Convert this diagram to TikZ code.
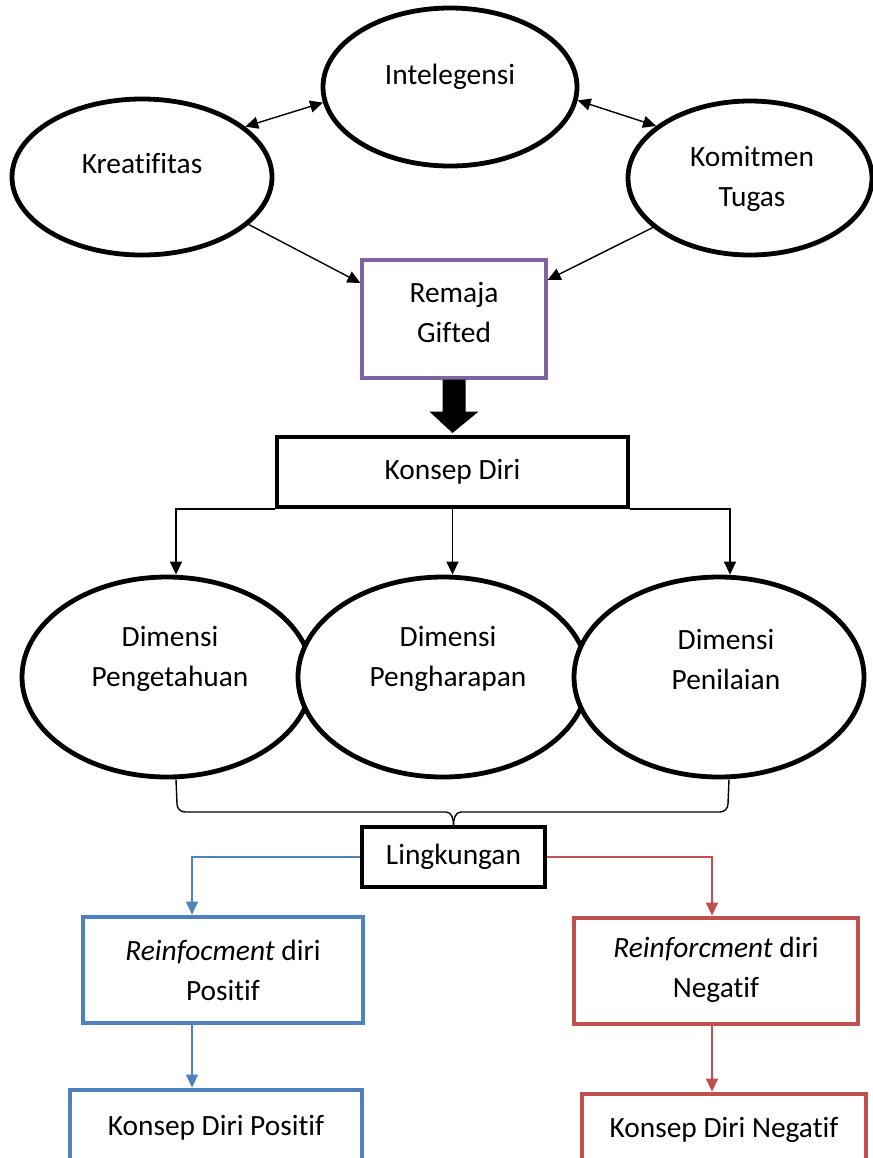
\documentclass[tikz,border=0pt]{standalone}
\usepackage{fontspec}
\setmainfont{Carlito}[Ligatures=CommonOff]
\usepackage{tikz}
\usetikzlibrary{calc,arrows.meta,positioning,shapes.geometric}
\definecolor{purc}{HTML}{8064A2}
\definecolor{bluec}{HTML}{4F81BD}
\definecolor{redc}{HTML}{C0504D}
\tikzset{
  ar/.style={-{Triangle[length=6.5pt,width=6pt]},line width=0.7pt},
  dar/.style={{Triangle[length=6.5pt,width=6pt]}-{Triangle[length=6.5pt,width=6pt]},line width=0.7pt},
  elp/.style={ellipse,draw,fill=white,line width=2.4pt,inner sep=0pt},
  bx/.style={rectangle,draw,line width=2pt,align=center,inner sep=0pt},
  txt/.style={align=center,inner sep=0pt}
}
\begin{document}
\begin{tikzpicture}[x=0.5pt,y=-0.5pt,font=\fontsize{14.7}{20}\selectfont]
\clip (0,0) rectangle (873,1158);
% top ellipses
\node[elp,minimum width=127pt,minimum height=79pt] (intel) at (450,87) {};
\node[txt] at (450,77) {Intelegensi};
\node[elp,minimum width=130pt,minimum height=78pt] (kreat) at (142,177) {};
\node[txt] at (142,163) {Kreatifitas};
\node[elp,minimum width=122pt,minimum height=77pt] (komit) at (750,178) {};
\node[txt] at (752,179) {Komitmen\\Tugas};
\node[bx,draw=purc,line width=1.6pt,minimum width=92pt,minimum height=59pt] (gifted) at (454,319) {};
\node[txt] at (454,312) {Remaja\\Gifted};
\draw[dar] (kreat.26) -- (intel.187);
\draw[dar] (intel.-6) -- (komit.151);
\draw[ar] (kreat.-24) -- ([yshift=18pt]gifted.west);
\draw[ar] (komit.207) -- ([yshift=19.5pt]gifted.east);
% konsep diri
\node[bx,minimum width=175.5pt,minimum height=35pt] (konsep) at (452.5,472) {Konsep Diri};
\fill ($(gifted.south)+(-11.5,0)$) -- ($(gifted.south)+(11.5,0)$) -- ($(gifted.south)+(11.5,32)$)
  -- ($(gifted.south)+(24.5,32)$) -- ($(konsep.north)+(0,-2)$) -- ($(gifted.south)+(-24.5,32)$)
  -- ($(gifted.south)+(-11.5,32)$) -- cycle;
% dimensi
\node[elp,minimum width=145pt,minimum height=100pt] (dpeng) at (167,677) {};
\node[elp,minimum width=145pt,minimum height=100pt] (dharap) at (443,677) {};
\node[elp,minimum width=145pt,minimum height=100pt] (dnilai) at (719,677) {};
\node[txt] at (170,659) {Dimensi\\Pengetahuan};
\node[txt] at (448,659) {Dimensi\\Pengharapan};
\node[txt] at (726,659) {Dimensi\\Penilaian};
\draw[ar] (konsep.south west) -| ([xshift=4.5pt]dpeng.north);
\draw[ar] (konsep.south) -- (konsep.south |- dharap.north);
\draw[ar] (konsep.south east) -| ([xshift=5.5pt]dnilai.north);
% lingkungan
\node[bx,minimum width=91.5pt,minimum height=30pt] (lingk) at (453.5,857) {Lingkungan};
\draw[line width=0.7pt] ([xshift=4.5pt]dpeng.south) -- (177,804) to[out=-90,in=180] (185,812)
  -- (446,812) to[out=0,in=90] (lingk.north);
\draw[line width=0.7pt] ([xshift=5pt]dnilai.south) -- (728,804) to[out=-90,in=0] (720,812)
  -- (461,812) to[out=180,in=90] (lingk.north);
% reinforcement
\node[bx,draw=bluec,line width=2.4pt,minimum width=140pt,minimum height=53pt] (rpos) at (223,970) {\textit{Reinfocment} diri\\Positif};
\node[bx,draw=redc,line width=2.4pt,minimum width=142pt,minimum height=53pt] (rneg) at (716,971) {};
\node[txt] at (716,970) {\textit{Reinforcment} diri\\Negatif};
\draw[ar,bluec] (lingk.west) -| ([xshift=-15.5pt]rpos.north);
\draw[ar,redc] (lingk.east) -| ([xshift=-2pt]rneg.north);
\node[bx,draw=bluec,line width=2.4pt,minimum width=146pt,minimum height=38pt] (kpos) at (216,1128) {Konsep Diri Positif};
\node[bx,draw=redc,line width=2.4pt,minimum width=142pt,minimum height=36pt] (kneg) at (724,1130) {Konsep Diri Negatif};
\draw[ar,bluec] ([xshift=-15.5pt]rpos.south) -- ([xshift=-15.5pt]rpos.south |- kpos.north);
\draw[ar,redc] ([xshift=-2pt]rneg.south) -- ([xshift=-2pt]rneg.south |- kneg.north);
\end{tikzpicture}
\end{document}
